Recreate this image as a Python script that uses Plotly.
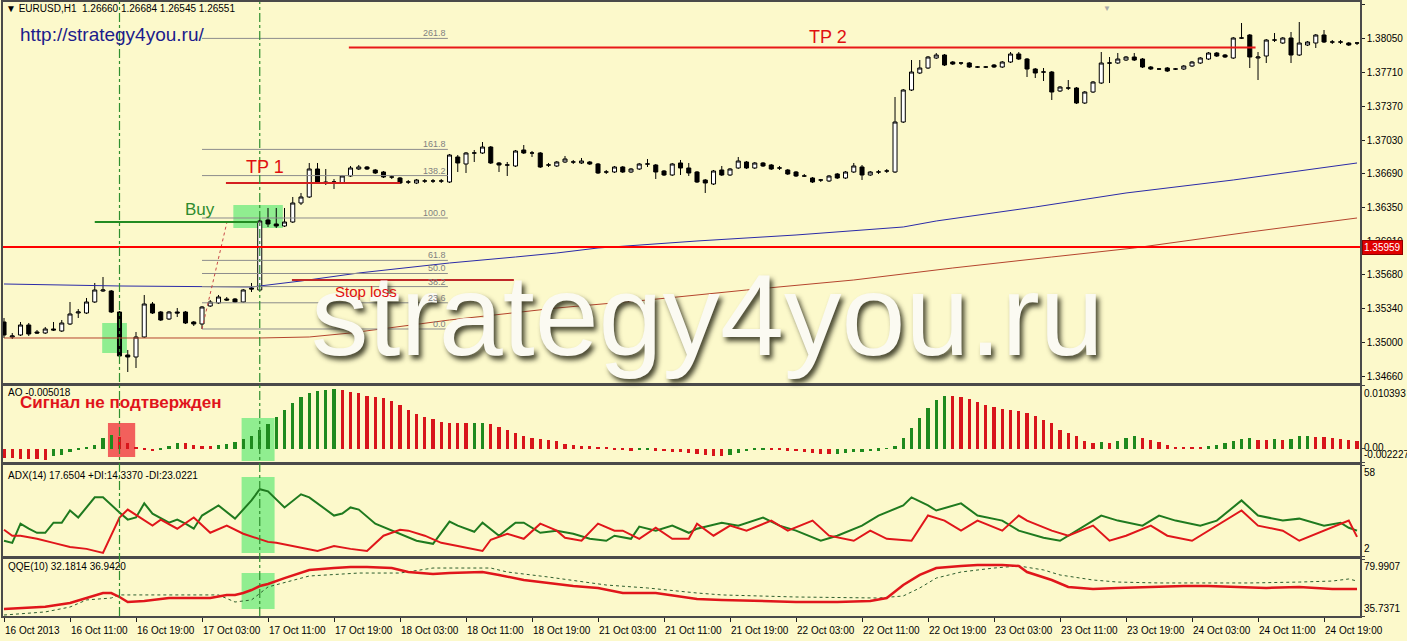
import plotly.graph_objects as go
from plotly.subplots import make_subplots

# ---------------- data ----------------
opens = [1.3521,1.3506,1.3508,1.3518,1.3511,1.3510,1.3514,1.3512,1.3519,1.3530,
         1.3530,1.3541,1.3552,1.3552,1.3531,1.3488,1.3486,1.3506,1.3539,1.3531,
         1.3524,1.3531,1.3531,1.3521,1.3519,1.3537,1.3540,1.3544,1.3544,1.3541,
         1.3555,1.3553,1.3623,1.3619,1.3617,1.3621,1.3640,1.3646,1.3674,1.3661,
         1.3661,1.3660,1.3667,1.3674,1.3676,1.3673,1.3671,1.3666,1.3665,1.3661,
         1.3660,1.3662,1.3662,1.3662,1.3661,1.3686,1.3679,1.3690,1.3690,1.3696,
         1.3680,1.3678,1.3677,1.3693,1.3690,1.3690,1.3678,1.3677,1.3681,1.3681,
         1.3680,1.3681,1.3679,1.3671,1.3671,1.3676,1.3671,1.3674,1.3679,1.3678,
         1.3672,1.3668,1.3680,1.3675,1.3671,1.3663,1.3659,1.3673,1.3668,1.3675,
         1.3681,1.3675,1.3680,1.3678,1.3675,1.3673,1.3671,1.3667,1.3665,1.3663,
         1.3662,1.3669,1.3665,1.3671,1.3676,1.3668,1.3671,1.3672,1.3671,1.3721,
         1.3753,1.3770,1.3775,1.3785,1.3788,1.3781,1.3780,1.3780,1.3776,1.3776,
         1.3778,1.3776,1.3781,1.3789,1.3784,1.3774,1.3771,1.3771,1.3752,1.3755,
         1.3755,1.3740,1.3751,1.3760,1.3780,1.3780,1.3783,1.3786,1.3784,1.3776,
         1.3774,1.3775,1.3774,1.3774,1.3777,1.3780,1.3784,1.3790,1.3788,1.3785,
         1.3805,1.3808,1.3785,1.3787,1.3803,1.3800,1.3805,1.3788,1.3798,1.3800,
         1.3808,1.3801,1.3801,1.3800,1.3800]
highs = [1.3525,1.3510,1.3521,1.3520,1.3513,1.3516,1.3521,1.3523,1.3541,1.3534,
         1.3545,1.3560,1.3566,1.3553,1.3532,1.3493,1.3511,1.3548,1.3541,1.3532,
         1.3532,1.3535,1.3532,1.3522,1.3537,1.3543,1.3548,1.3546,1.3545,1.3554,
         1.3560,1.3625,1.3635,1.3635,1.3635,1.3646,1.3650,1.3680,1.3680,1.3674,
         1.3664,1.3668,1.3677,1.3678,1.3677,1.3674,1.3672,1.3668,1.3666,1.3663,
         1.3664,1.3664,1.3664,1.3664,1.3689,1.3688,1.3691,1.3693,1.3701,1.3697,
         1.3681,1.3681,1.3693,1.3698,1.3692,1.3691,1.3680,1.3682,1.3687,1.3683,
         1.3685,1.3682,1.3680,1.3673,1.3677,1.3677,1.3675,1.3680,1.3684,1.3679,
         1.3673,1.3680,1.3683,1.3680,1.3672,1.3664,1.3673,1.3677,1.3675,1.3686,
         1.3682,1.3681,1.3681,1.3679,1.3677,1.3674,1.3672,1.3669,1.3666,1.3664,
         1.3668,1.3670,1.3672,1.3680,1.3678,1.3672,1.3673,1.3674,1.3746,1.3754,
         1.3783,1.3783,1.3787,1.3790,1.3789,1.3782,1.3781,1.3781,1.3777,1.3777,
         1.3779,1.3782,1.3791,1.3791,1.3785,1.3775,1.3775,1.3772,1.3757,1.3763,
         1.3756,1.3752,1.3762,1.3791,1.3786,1.3790,1.3787,1.3790,1.3785,1.3777,
         1.3775,1.3776,1.3775,1.3778,1.3782,1.3786,1.3791,1.3791,1.3789,1.3806,
         1.3820,1.3809,1.3791,1.3804,1.3810,1.3806,1.3811,1.3821,1.3802,1.3809,
         1.3813,1.3803,1.3803,1.3801,1.3801]
lows = [1.3505,1.3504,1.3507,1.3507,1.3509,1.3509,1.3512,1.3511,1.3518,1.3525,
        1.3529,1.3540,1.3551,1.3530,1.3486,1.3471,1.3475,1.3505,1.3529,1.3522,
        1.3523,1.3526,1.3519,1.3517,1.3514,1.3536,1.3539,1.3542,1.3540,1.3540,
        1.3551,1.3552,1.3616,1.3615,1.3616,1.3620,1.3638,1.3645,1.3660,1.3658,
        1.3654,1.3659,1.3666,1.3673,1.3673,1.3669,1.3665,1.3664,1.3659,1.3659,
        1.3659,1.3660,1.3660,1.3660,1.3660,1.3671,1.3670,1.3681,1.3689,1.3679,
        1.3671,1.3667,1.3676,1.3689,1.3686,1.3675,1.3676,1.3676,1.3680,1.3679,
        1.3679,1.3678,1.3669,1.3669,1.3670,1.3670,1.3670,1.3673,1.3676,1.3664,
        1.3667,1.3667,1.3668,1.3667,1.3660,1.3650,1.3658,1.3667,1.3667,1.3674,
        1.3674,1.3674,1.3676,1.3673,1.3673,1.3668,1.3666,1.3666,1.3660,1.3661,
        1.3661,1.3664,1.3664,1.3670,1.3663,1.3667,1.3669,1.3670,1.3670,1.3720,
        1.3752,1.3769,1.3774,1.3784,1.3777,1.3778,1.3778,1.3775,1.3775,1.3775,
        1.3775,1.3775,1.3780,1.3783,1.3766,1.3765,1.3762,1.3743,1.3751,1.3753,
        1.3739,1.3739,1.3750,1.3759,1.3760,1.3779,1.3782,1.3782,1.3775,1.3773,
        1.3773,1.3771,1.3773,1.3773,1.3776,1.3779,1.3783,1.3786,1.3785,1.3784,
        1.3804,1.3775,1.3763,1.3780,1.3801,1.3799,1.3780,1.3787,1.3797,1.3795,
        1.3800,1.3799,1.3799,1.3797,1.3798]
closes = [1.3508,1.3507,1.3518,1.3509,1.3510,1.3514,1.3513,1.3520,1.3529,1.3531,
          1.3541,1.3553,1.3553,1.3531,1.3487,1.3486,1.3506,1.3539,1.3530,1.3523,
          1.3531,1.3530,1.3520,1.3519,1.3536,1.3541,1.3546,1.3543,1.3541,1.3553,
          1.3554,1.3622,1.3619,1.3617,1.3621,1.3640,1.3646,1.3674,1.3661,1.3660,
          1.3661,1.3667,1.3675,1.3676,1.3674,1.3670,1.3666,1.3666,1.3660,1.3661,
          1.3663,1.3662,1.3662,1.3662,1.3688,1.3680,1.3690,1.3690,1.3696,1.3680,
          1.3678,1.3678,1.3692,1.3690,1.3690,1.3676,1.3678,1.3681,1.3684,1.3681,
          1.3682,1.3679,1.3670,1.3671,1.3676,1.3671,1.3674,1.3679,1.3679,1.3671,
          1.3668,1.3679,1.3675,1.3670,1.3661,1.3660,1.3672,1.3668,1.3674,1.3682,
          1.3675,1.3680,1.3677,1.3674,1.3675,1.3669,1.3667,1.3667,1.3661,1.3663,
          1.3667,1.3665,1.3671,1.3677,1.3668,1.3671,1.3671,1.3672,1.3721,1.3753,
          1.3771,1.3775,1.3786,1.3788,1.3778,1.3779,1.3780,1.3776,1.3776,1.3776,
          1.3776,1.3781,1.3789,1.3784,1.3774,1.3770,1.3771,1.3751,1.3756,1.3755,
          1.3740,1.3751,1.3761,1.3780,1.3780,1.3784,1.3786,1.3783,1.3776,1.3774,
          1.3774,1.3772,1.3774,1.3777,1.3781,1.3785,1.3790,1.3787,1.3786,1.3805,
          1.3805,1.3786,1.3786,1.3803,1.3803,1.3805,1.3788,1.3800,1.3801,1.3808,
          1.3801,1.3801,1.3801,1.3798,1.3800]

# moving averages (bar index, price)
ma_blue_idx = [0, 14, 30, 36, 43, 54, 62, 67, 72, 84, 96, 109, 113, 125, 136, 149, 164]
ma_blue_val = [1.3559, 1.3557, 1.3556, 1.3562, 1.3570, 1.3580, 1.3586, 1.3590, 1.3595,
               1.3602, 1.3608, 1.3616, 1.3622, 1.3636, 1.3650, 1.3663, 1.3680]
ma_brown_idx = [0, 24, 31, 37, 42, 54, 67, 78, 90, 103, 115, 127, 137, 151, 164]
ma_brown_val = [1.3505, 1.3505, 1.3505, 1.3506, 1.3510, 1.3523, 1.3535, 1.3543, 1.3553,
                1.3563, 1.3575, 1.3586, 1.3595, 1.3611, 1.3625]

# Awesome Oscillator, in units of 1e-4
ao_e4 = [-14.9,-15.8,-16.6,-17.3,-17.9,-18.3,-11.6,-10.0,-5.8,-1.7,
         1.7,6.6,18.3,23.2,19.9,10.0,2.5,-1.7,-4.2,-1.7,
         5.0,10.0,9.1,6.0,5.0,4.2,5.8,8.3,11.6,16.6,
         21.6,31.5,41.5,53.1,64.7,76.4,86.3,93.0,96.3,97.9,
         98.8,97.1,94.6,93.0,88.0,85.5,83.8,79.7,73.0,64.7,
         58.1,53.1,49.0,44.8,43.2,42.5,42.0,42.5,43.0,40.7,
         36.5,31.5,26.6,21.6,18.3,16.6,14.9,13.3,8.3,5.8,
         4.5,3.8,2.8,1.2,-0.8,-1.7,-3.3,-2.5,-2.0,-3.3,
         -4.2,-5.0,-5.8,-6.6,-8.3,-10.0,-11.6,-12.5,-10.0,-6.6,
         -4.2,-2.5,-0.8,-1.7,-2.5,-3.3,-4.2,-5.0,-6.6,-8.3,
         -9.1,-8.3,-6.6,-5.8,-5.0,-4.2,-3.3,0.8,5.0,18.3,
         34.9,51.5,68.1,81.3,88.0,86.8,85.2,83.0,77.5,73.0,
         68.6,65.9,63.6,61.9,59.3,53.6,48.1,42.7,31.5,26.1,
         20.4,13.3,9.5,11.1,9.5,13.3,17.8,20.4,17.8,14.9,
         11.1,6.6,3.3,2.2,1.7,1.3,3.8,6.6,9.5,13.3,
         16.6,17.1,14.9,14.6,16.6,13.8,16.6,20.4,20.8,19.4,
         19.1,17.8,16.6,14.9,12.1]

# ADX(14) lines
dig_idx = [0,1,2,3,4,5,6,7,8,9,11,12,14,15,16,17,18,20,21,22,23,24,26,28,30,31,32,34,36,37,
           40,41,42,43,45,47,50,52,54,55,57,58,60,62,63,65,67,69,71,73,74,76,77,79,81,83,84,
           87,89,92,94,96,99,101,104,106,109,110,112,113,116,118,121,123,126,128,130,133,135,
           138,140,142,145,147,150,152,155,157,160,162,163,164]
dig_val = [11.4,10.1,21.9,18.8,16.3,16.3,22.5,22.5,30.0,25.7,38.1,38.1,28.8,24.4,25.7,34.4,28.1,
           22.5,24.4,21.9,18.8,26.9,33.1,25.0,36.2,43.1,41.8,31.9,40.0,38.1,
           26.9,28.1,31.9,30.6,21.9,17.6,11.4,9.5,23.2,20.7,16.9,22.5,14.5,22.5,22.5,16.3,17.6,
           15.7,12.6,11.4,14.5,12.6,20.1,17.6,20.7,16.3,18.8,
           22.5,20.7,25.7,20.7,17.6,11.4,14.5,20.7,26.9,33.1,38.1,33.1,30.0,34.4,26.9,23.8,17.6,
           13.2,11.4,17.6,26.9,23.8,20.7,26.9,23.8,20.7,23.8,36.2,26.9,23.8,25.0,20.7,22.5,19.4,17.6]
dir_idx = [0,1,2,4,6,8,10,12,14,15,18,19,21,23,25,27,29,31,32,33,35,38,40,42,44,46,48,49,51,53,
           55,58,59,61,63,65,67,68,70,72,74,75,77,79,81,83,84,86,88,90,93,95,98,100,103,105,107,
           110,112,114,116,118,121,123,124,127,129,132,134,136,139,141,144,146,148,150,152,155,
           157,160,163,164]
dir_val = [18.2,14.5,14.5,12.6,10.1,7.6,6.4,3.9,25.7,30.6,20.7,24.4,18.8,25.7,16.3,20.7,15.7,12.6,
           10.7,10.1,8.2,5.1,8.2,6.4,5.1,14.5,18.2,17.6,14.5,10.1,
           8.2,5.1,12.0,15.7,12.6,21.9,17.6,13.2,11.4,21.9,17.6,17.6,12.6,19.4,12.6,12.6,21.9,14.5,
           20.7,17.6,23.8,17.6,23.8,14.5,11.4,17.6,12.6,
           11.4,26.9,23.8,17.6,23.8,17.6,26.9,23.8,17.6,14.5,20.7,11.4,14.5,20.7,14.5,11.4,17.6,
           23.8,30.0,20.7,17.6,11.4,17.6,23.8,13.8]

# QQE(10)
qqe_idx = [0,3,5,8,10,12,13,14,15,17,20,23,25,27,28,29,30,31,32,34,37,40,42,44,47,49,52,54,58,60,
           63,66,69,72,75,79,82,84,87,92,96,101,105,107,109,111,113,116,118,121,123,124,127,129,
           132,135,139,143,146,150,153,157,161,164]
qqe_val = [41.2,42.4,43.0,45.8,49.7,53.6,53.6,50.5,46.6,47.4,49.7,49.7,49.7,52.1,52.1,53.6,55.9,
           59.0,60.6,65.2,71.5,73.0,73.8,73.8,73.0,69.9,68.3,69.1,69.9,67.6,
           63.7,61.4,59.0,57.5,53.6,53.6,50.5,49.0,48.2,47.4,46.6,46.6,47.4,49.7,59.8,67.6,73.0,
           74.6,75.3,75.3,74.6,69.9,63.7,58.3,56.7,57.5,58.3,59.0,59.0,58.3,57.5,58.3,56.7,56.7]
qqe_sig_idx = [0,5,8,10,13,14,15,26,28,30,32,35,37,43,48,52,59,61,66,73,78,84,87,96,106,109,111,
               113,116,120,123,126,128,132,135,140,145,151,157,161,163,164]
qqe_sig_val = [36.5,38.9,42.7,48.2,49.7,52.1,52.1,52.1,46.6,48.2,58.3,63.7,66.8,69.1,69.1,73.0,
               73.0,69.9,66.0,59.8,57.5,53.6,52.1,50.5,49.7,51.3,57.5,65.2,69.9,73.0,74.6,71.5,
               67.6,63.7,62.1,61.4,61.4,61.4,62.1,62.9,64.5,62.9]

# levels / objects
red_level = 1.35959
buy_level, buy_from, buy_to = 1.3621, 11.0, 30.8
tp1_level, tp1_from, tp1_to = 1.3660, 26.9, 48.0
tp2_level, tp2_from, tp2_to = 1.37955, 41.8, 151.7
sl_level, sl_from, sl_to = 1.3563, 34.9, 61.8
fib_levels = [0.0, 23.6, 38.2, 50.0, 61.8, 100.0, 138.2, 161.8, 261.8]
fib_low, fib_high, fib_from, fib_to = 1.3514, 1.3625, 24.0, 53.8
signal_bars = [14, 31]

price_ticks = [1.38390, 1.38050, 1.37710, 1.37370, 1.37030, 1.36690, 1.36350, 1.36010,
               1.35680, 1.35340, 1.35000, 1.34660]
time_labels = ["16 Oct 2013", "16 Oct 11:00", "16 Oct 19:00", "17 Oct 03:00", "17 Oct 11:00",
               "17 Oct 19:00", "18 Oct 03:00", "18 Oct 11:00", "18 Oct 19:00", "21 Oct 03:00",
               "21 Oct 11:00", "21 Oct 19:00", "22 Oct 03:00", "22 Oct 11:00", "22 Oct 19:00",
               "23 Oct 03:00", "23 Oct 11:00", "23 Oct 19:00", "24 Oct 03:00", "24 Oct 11:00",
               "24 Oct 19:00"]
bars_per_label = 8

ao_range = [-0.002227, 0.010393]
adx_range = [2, 58]
qqe_range = [35.7371, 79.9907]

# ---------------- figure ----------------
FONT = "Liberation Sans, Arial, sans-serif"
BG = "#FCF9CB"
bars = list(range(len(closes)))
ao = [v * 1e-4 for v in ao_e4]
ao_colors = ["#D8151B" if (i == 0 or ao[i] <= ao[i - 1]) else "#1E8A1E" for i in range(len(ao))]

fig = make_subplots(rows=4, cols=1, shared_xaxes=True, vertical_spacing=0.0)

fig.add_trace(go.Candlestick(
    x=bars, open=opens, high=highs, low=lows, close=closes,
    increasing=dict(line=dict(color="black", width=1), fillcolor="white"),
    decreasing=dict(line=dict(color="black", width=1), fillcolor="black"),
    whiskerwidth=0, showlegend=False, hoverinfo="skip"), row=1, col=1)
fig.add_trace(go.Scatter(x=ma_blue_idx, y=ma_blue_val, mode="lines",
                         line=dict(color="#2B2BA8", width=1), showlegend=False), row=1, col=1)
fig.add_trace(go.Scatter(x=ma_brown_idx, y=ma_brown_val, mode="lines",
                         line=dict(color="#B5452E", width=1), showlegend=False), row=1, col=1)

fig.add_trace(go.Bar(x=bars, y=ao, marker=dict(color=ao_colors, line=dict(width=0)),
                     width=0.38, showlegend=False), row=2, col=1)

fig.add_trace(go.Scatter(x=dig_idx, y=dig_val, mode="lines",
                         line=dict(color="#1F7A1F", width=2), showlegend=False), row=3, col=1)
fig.add_trace(go.Scatter(x=dir_idx, y=dir_val, mode="lines",
                         line=dict(color="#E0161B", width=2), showlegend=False), row=3, col=1)

fig.add_trace(go.Scatter(x=qqe_sig_idx, y=qqe_sig_val, mode="lines",
                         line=dict(color="#2E5E2E", width=1, dash="dot"), showlegend=False), row=4, col=1)
fig.add_trace(go.Scatter(x=qqe_idx, y=qqe_val, mode="lines",
                         line=dict(color="#E0161B", width=2.5), showlegend=False), row=4, col=1)

xmin, xmax = -0.121, 164.36
axis_common = dict(showgrid=False, zeroline=False, showline=True, mirror=True,
                   linecolor="#4A4A4A", linewidth=1.5)
for k in range(1, 5):
    fig.update_xaxes(row=k, col=1, range=[xmin, xmax], showticklabels=False, ticks="",
                     rangeslider_visible=False, **axis_common)
fig.update_xaxes(row=4, col=1, ticks="outside", ticklen=4, tickcolor="#202020",
                 tickvals=[i * bars_per_label for i in range(len(time_labels))])

fig.update_yaxes(row=1, col=1, range=[1.3460, 1.3841], side="right", tickvals=price_ticks,
                 ticktext=["%.5f" % v for v in price_ticks], ticks="outside", ticklen=3,
                 tickcolor="#202020", tickfont=dict(family=FONT, size=10, color="black"),
                 **axis_common)
fig.update_yaxes(row=2, col=1, range=ao_range, side="right", tickvals=[ao_range[1], 0, ao_range[0]],
                 showticklabels=False, ticks="outside", ticklen=3, **axis_common)
fig.update_yaxes(row=3, col=1, range=adx_range, side="right", tickvals=adx_range,
                 showticklabels=False, ticks="outside", ticklen=3, **axis_common)
fig.update_yaxes(row=4, col=1, range=qqe_range, side="right", tickvals=qqe_range,
                 showticklabels=False, ticks="outside", ticklen=3, **axis_common)

fig.update_layout(
    width=1407, height=641,
    margin=dict(l=3, r=47, t=2, b=25, autoexpand=False),
    paper_bgcolor=BG, plot_bgcolor=BG,
    font=dict(family=FONT, size=10, color="black"),
    showlegend=False, bargap=0,
    yaxis=dict(domain=[0.3795, 1.0]),
    yaxis2=dict(domain=[0.2508, 0.3746]),
    yaxis3=dict(domain=[0.0977, 0.2459]),
    yaxis4=dict(domain=[0.0, 0.0928]),
)

shapes = []
# highlight rectangles
shapes.append(dict(type="rect", xref="x", yref="y", x0=27.8, x1=33.8, y0=1.3615, y1=1.3638,
                   fillcolor="#90EE90", line=dict(width=0), layer="below"))
shapes.append(dict(type="rect", xref="x", yref="y", x0=11.9, x1=14.9, y0=1.3490, y1=1.3520,
                   fillcolor="#90EE90", line=dict(width=0), layer="below"))
shapes.append(dict(type="rect", xref="x", yref="y2", x0=12.6, x1=15.9, y0=-0.00139, y1=0.00425,
                   fillcolor="#F2605C", line=dict(width=0), layer="below"))
shapes.append(dict(type="rect", xref="x", yref="y2", x0=28.8, x1=32.8, y0=-0.00206, y1=0.00508,
                   fillcolor="#90EE90", line=dict(width=0), layer="below"))
shapes.append(dict(type="rect", xref="x", yref="y3", x0=28.8, x1=32.8, y0=3.9, y1=50.6,
                   fillcolor="#90EE90", line=dict(width=0), layer="below"))
shapes.append(dict(type="rect", xref="x", yref="y4", x0=28.8, x1=32.8, y0=41.2, y1=69.1,
                   fillcolor="#90EE90", line=dict(width=0), layer="below"))
# fibonacci levels
for lv in fib_levels:
    p = fib_low + (fib_high - fib_low) * lv / 100.0
    shapes.append(dict(type="line", xref="x", yref="y", x0=fib_from, x1=fib_to, y0=p, y1=p,
                       line=dict(color="#8C8C8C", width=1)))
shapes.append(dict(type="line", xref="x", yref="y", x0=fib_from, x1=fib_from + 3, y0=fib_low,
                   y1=fib_high - 0.0005, line=dict(color="#C84848", width=1, dash="dot")))
# horizontal trade lines
shapes.append(dict(type="line", xref="paper", yref="y", x0=0, x1=1, y0=red_level, y1=red_level,
                   line=dict(color="#FF0000", width=2)))
shapes.append(dict(type="line", xref="x", yref="y", x0=buy_from, x1=buy_to, y0=buy_level, y1=buy_level,
                   line=dict(color="#228B22", width=2)))
shapes.append(dict(type="line", xref="x", yref="y", x0=tp1_from, x1=tp1_to, y0=tp1_level, y1=tp1_level,
                   line=dict(color="#D42020", width=2)))
shapes.append(dict(type="line", xref="x", yref="y", x0=tp2_from, x1=tp2_to, y0=tp2_level, y1=tp2_level,
                   line=dict(color="#E81818", width=2)))
shapes.append(dict(type="line", xref="x", yref="y", x0=sl_from, x1=sl_to, y0=sl_level, y1=sl_level,
                   line=dict(color="#C02828", width=2)))
# signal verticals
for b in signal_bars:
    shapes.append(dict(type="line", xref="x", yref="paper", x0=b, x1=b, y0=0, y1=1,
                       line=dict(color="#2F8F2F", width=1.2, dash="dashdot")))
fig.update_layout(shapes=shapes)

ann = []
def A(**kw):
    d = dict(showarrow=False, font=dict(family=FONT, size=10, color="black"))
    d.update(kw)
    ann.append(d)

# watermark first so that other labels sit on top of it
A(text="strategy4you.ru", xref="paper", yref="paper", x=0.5192, y=0.490, xanchor="center",
  yanchor="middle", font=dict(family=FONT, size=115, color="#FBFAF2",
                              shadow="3px 4px 5px rgba(50,50,30,0.9)"))
# time axis labels
for k, lab in enumerate(time_labels):
    A(text=lab, xref="x", yref="paper", x=k * bars_per_label, y=0, xanchor="left", yanchor="top",
      yshift=-7, xshift=-1)
# fib labels
for lv in fib_levels:
    p = fib_low + (fib_high - fib_low) * lv / 100.0
    A(text="%.1f" % lv, xref="x", yref="y", x=fib_to, y=p, xanchor="right", yanchor="bottom",
      font=dict(family=FONT, size=9, color="#808080"), yshift=-2)
# trade labels
A(text="Buy", xref="x", yref="y", x=23.8, y=1.3633, font=dict(family=FONT, size=17, color="#2E8B2E"))
A(text="TP 1", xref="x", yref="y", x=31.6, y=1.3676, font=dict(family=FONT, size=18, color="#E01010"))
A(text="Stop loss", xref="x", yref="y", x=43.9, y=1.3551, font=dict(family=FONT, size=15, color="#E01010"))
A(text="TP 2", xref="x", yref="y", x=99.9, y=1.3806, font=dict(family=FONT, size=18, color="#E01010"))
# header, url
A(text="\u25bc EURUSD,H1  1.26660 1.26684 1.26545 1.26551", xref="paper", yref="paper",
  x=0.0005, y=0.990, xanchor="left", yanchor="middle")
A(text="\u25bc", xref="paper", yref="paper", x=0.818, y=1.0, yanchor="top",
  font=dict(family=FONT, size=8, color="#A8A8A8"))
A(text="http://strategy4you.ru/", xref="paper", yref="paper", x=0.011, y=0.9463,
  xanchor="left", yanchor="middle", font=dict(family=FONT, size=19, color="#1C1C8C"))
# indicator titles
A(text="AO -0.005018", xref="paper", yref="paper", x=0.002, y=0.3632, xanchor="left", yanchor="middle")
A(text="<b>Сигнал не подтвержден</b>", xref="paper", yref="paper", x=0.011, y=0.3485,
  xanchor="left", yanchor="middle", font=dict(family=FONT, size=17, color="#E0141B"))
A(text="ADX(14) 17.6504 +DI:14.3370 -DI:23.0221", xref="paper", yref="paper", x=0.002, y=0.2296,
  xanchor="left", yanchor="middle")
A(text="QQE(10) 32.1814 36.9420", xref="paper", yref="paper", x=0.002, y=0.0814,
  xanchor="left", yanchor="middle")
# indicator scale labels
A(text="0.010393", xref="paper", yref="y2", x=1, y=ao_range[1], xanchor="left", yanchor="top", xshift=2)
A(text="0.00", xref="paper", yref="y2", x=1, y=0, xanchor="left", yanchor="middle", xshift=2, yshift=1)
A(text="-0.002227", xref="paper", yref="y2", x=1, y=ao_range[0], xanchor="left", yanchor="bottom", xshift=2)
A(text="58", xref="paper", yref="y3", x=1, y=adx_range[1], xanchor="left", yanchor="top", xshift=2)
A(text="2", xref="paper", yref="y3", x=1, y=adx_range[0], xanchor="left", yanchor="bottom", xshift=2)
A(text="79.9907", xref="paper", yref="y4", x=1, y=qqe_range[1], xanchor="left", yanchor="top", xshift=2)
A(text="35.7371", xref="paper", yref="y4", x=1, y=qqe_range[0], xanchor="left", yanchor="bottom", xshift=2)
# current price label
A(text="%.5f" % red_level, xref="paper", yref="y", x=1, y=red_level, xanchor="left", yanchor="middle",
  xshift=2, bgcolor="#E00000", bordercolor="#900000", borderwidth=1, borderpad=1,
  font=dict(family=FONT, size=10, color="white"))
fig.update_layout(annotations=ann)

fig.write_html("out.html", config={"displayModeBar": False},
               post_script="document.body.style.margin='0px';document.body.style.padding='0px';")
